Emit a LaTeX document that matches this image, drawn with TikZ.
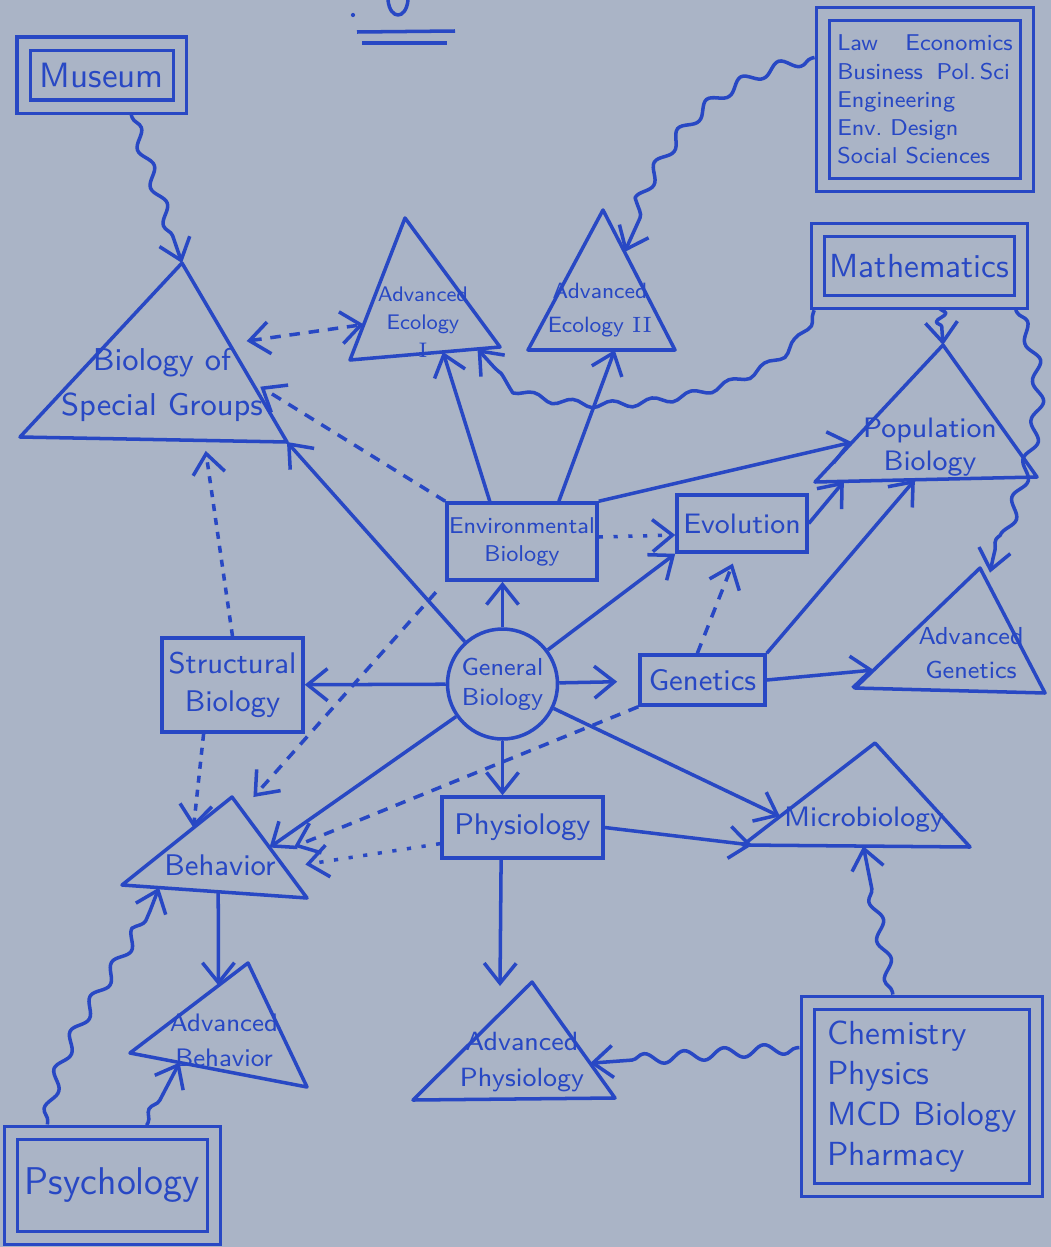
\documentclass[tikz,border=0pt]{standalone}
\usepackage{tikz}
\usetikzlibrary{arrows.meta,calc,decorations.pathmorphing}
\renewcommand{\familydefault}{\sfdefault}
\definecolor{paper}{RGB}{170,180,198}
\definecolor{ink}{RGB}{40,72,196}
\tikzset{barb/.tip={Straight Barb[length=2mm,width=3.2mm]}}

\begin{document}
\begin{tikzpicture}[x=1cm, y=-1cm, line width=1pt, line join=round,
    every node/.style={text=ink},
    box/.style={draw=ink, line join=miter, inner sep=0pt, align=center},
    dbox/.style={draw=ink, line join=miter, line width=.9pt, double=paper, double distance=1mm, inner sep=0pt},
    tri/.style={draw=ink},
    lbl/.style={inner sep=0pt, align=center},
    link/.style={draw=ink, -barb},
    dlink/.style={link, dash pattern=on 3pt off 2.5pt},
    olink/.style={link, dash pattern=on 1.2pt off 3pt},
    wlink/.style={link, decorate, decoration={snake, amplitude=.55mm, segment length=4mm, pre length=1mm, post length=2.5mm}},
  ]
  % sheet
  \path[fill=paper, use as bounding box] (0,0) rectangle (10.51,12.47);
  % page mark at the top
  \draw[ink] (3.57,.32) -- (4.55,.31);
  \draw[ink] (3.62,.43) -- (4.47,.43);
  \draw[ink] (3.88,0) .. controls (3.9,.2) and (4.06,.2) .. (4.08,0);
  \fill[ink] (3.53,.15) circle (.6pt);

  % fields outside biology
  \node[dbox, minimum width=1.565cm, minimum height=.63cm, font=\fontsize{10}{12}\selectfont] (museum) at (1.0175,.75) {Museum};
  \node[dbox, minimum width=2.04cm, minimum height=1.71cm, align=left, font=\fontsize{6.5}{8}\selectfont] (lawecon) at (9.25,.995)
    {Law\hspace{1.2em}Economics\\Business\hspace{.6em}Pol.\,Sci\\Engineering\\Env.\ Design\\Social Sciences};
  \node[dbox, minimum width=2.03cm, minimum height=.72cm, font=\fontsize{9.5}{11}\selectfont] (math) at (9.195,2.66) {Mathematics};
  \node[dbox, minimum width=2.28cm, minimum height=1.87cm, align=left, font=\fontsize{9.5}{11.5}\selectfont] (chem) at (9.22,10.965)
    {Chemistry\\Physics\\MCD Biology\\Pharmacy};
  \node[dbox, minimum width=2.03cm, minimum height=1.05cm, font=\fontsize{11}{13}\selectfont] (psych) at (1.125,11.855) {Psychology};

  % core courses
  \node[draw=ink, circle, minimum size=1.1cm, inner sep=0pt, align=center, font=\fontsize{7}{8.5}\selectfont] (genbio) at (5.025,6.84) {General\\Biology};
  \node[box, minimum width=1.5cm, minimum height=.77cm, font=\fontsize{6.5}{8}\selectfont] (envbio) at (5.22,5.415) {Environmental\\Biology};
  \node[box, minimum width=1.3cm, minimum height=.57cm, font=\fontsize{8}{10}\selectfont] (evol) at (7.42,5.235) {Evolution};
  \node[box, minimum width=1.41cm, minimum height=.94cm, font=\fontsize{8.5}{11}\selectfont] (struct) at (2.325,6.85) {Structural\\Biology};
  \node[box, minimum width=1.25cm, minimum height=.5cm, font=\fontsize{8.5}{10}\selectfont] (genetics) at (7.025,6.8) {Genetics};
  \node[box, minimum width=1.61cm, minimum height=.61cm, font=\fontsize{8.5}{10}\selectfont] (physio) at (5.225,8.275) {Physiology};

  % advanced courses (triangles)
  \draw[tri] (1.82,2.63) coordinate (bsg-a) -- (.20,4.37) coordinate (bsg-l) -- (2.87,4.42) coordinate (bsg-r) -- cycle;
  \node[lbl, font=\fontsize{9}{13}\selectfont] (bsg) at (1.62,3.85) {Biology of\\Special Groups};
  \draw[tri] (4.05,2.18) coordinate (aeco1-a) -- (3.50,3.60) coordinate (aeco1-l) -- (5.00,3.47) coordinate (aeco1-r) -- cycle;
  \node[lbl, font=\fontsize{6}{8}\selectfont] (aeco1) at (4.23,3.22) {Advanced\\Ecology\\{\rmfamily I}};
  \draw[tri] (6.03,2.10) coordinate (aeco2-a) -- (5.28,3.50) coordinate (aeco2-l) -- (6.75,3.50) coordinate (aeco2-r) -- cycle;
  \node[lbl, font=\fontsize{6.3}{9.5}\selectfont] (aeco2) at (6.0,3.10) {Advanced\\Ecology {\rmfamily II}};
  \draw[tri] (9.43,3.45) coordinate (popbio-a) -- (8.15,4.82) coordinate (popbio-l) -- (10.37,4.77) coordinate (popbio-r) -- cycle;
  \node[lbl, font=\fontsize{8}{9.5}\selectfont] (popbio) at (9.30,4.47) {Population\\Biology};
  \draw[tri] (9.80,5.68) coordinate (advgen-a) -- (8.55,6.88) coordinate (advgen-l) -- (10.45,6.93) coordinate (advgen-r) -- cycle;
  \node[lbl, font=\fontsize{7}{9.5}\selectfont] (advgen) at (9.71,6.53) {Advanced\\Genetics};
  \draw[tri] (8.75,7.43) coordinate (micro-a) -- (7.43,8.45) coordinate (micro-l) -- (9.70,8.47) coordinate (micro-r) -- cycle;
  \node[lbl, font=\fontsize{8}{10}\selectfont] (micro) at (8.64,8.20) {Microbiology};
  \draw[tri] (2.32,7.97) coordinate (behav-a) -- (1.22,8.85) coordinate (behav-l) -- (3.07,8.98) coordinate (behav-r) -- cycle;
  \node[lbl, font=\fontsize{8.5}{10}\selectfont] (behav) at (2.20,8.65) {Behavior};
  \draw[tri] (2.48,9.63) coordinate (advbeh-a) -- (1.30,10.53) coordinate (advbeh-l) -- (3.07,10.87) coordinate (advbeh-r) -- cycle;
  \node[lbl, font=\fontsize{7.2}{10}\selectfont] (advbeh) at (2.24,10.40) {Advanced\\Behavior};
  \draw[tri] (5.32,9.82) coordinate (advphys-a) -- (4.13,11.00) coordinate (advphys-l) -- (6.15,10.98) coordinate (advphys-r) -- cycle;
  \node[lbl, font=\fontsize{7.5}{10.5}\selectfont] (advphys) at (5.22,10.62) {Advanced\\Physiology};

  % required sequence
  \draw[link] (genbio) -- (genbio |- envbio.south);
  \draw[link] (genbio) -- (struct);
  \draw[link, shorten >=6pt] (genbio) -- (genetics);
  \draw[link] (genbio) -- (genbio |- physio.north);
  \draw[link] (genbio) -- (evol.south west);
  \draw[link] (genbio) -- (bsg-r);
  \draw[link] (genbio) -- ($(behav-a)!.5!(behav-r)$);
  \draw[link] (genbio) -- ($(micro-a)!.72!(micro-l)$);
  \draw[link] ($(envbio.north west)!.29!(envbio.north east)$) -- ($(aeco1-l)!.62!(aeco1-r)$);
  \draw[link] ($(envbio.north west)!.74!(envbio.north east)$) -- ($(aeco2-l)!.59!(aeco2-r)$);
  \draw[link] (envbio.north east) -- ($(popbio-a)!.71!(popbio-l)$);
  \draw[link] (evol.east) -- ($(popbio-l)!.13!(popbio-r)$);
  \draw[link] (genetics.north east) -- ($(popbio-l)!.45!(popbio-r)$);
  \draw[link] (genetics.east) -- ($(advgen-a)!.85!(advgen-l)$);
  \draw[link] (physio.east) -- ($(micro-l)!.04!(micro-r)$);
  \draw[link] ($(physio.south west)!.37!(physio.south east)$) -- ($(advphys-a)+(-.32,.04)$);
  \draw[link] ($(behav-l)!.52!(behav-r)$) -- ($(advbeh-a)!.25!(advbeh-l)$);

  % recommended (dashed and dotted)
  \draw[dlink, barb-barb, shorten <=5pt] ($(bsg-a)!.45!(bsg-r)$) -- ($(aeco1-a)!.75!(aeco1-l)$);
  \draw[dlink, shorten >=3pt] (envbio.north west) -- ($(bsg-a)!.66!(bsg-r)$);
  \draw[link, dash pattern=on 2pt off 2pt, shorten >=3pt] (struct.north) -- ($(bsg-l)!.69!(bsg-r)$);
  \draw[link, dash pattern=on 2pt off 2pt] ($(struct.south west)!.3!(struct.south east)$) -- ($(behav-a)!.35!(behav-l)$);
  \draw[dlink, shorten <=4pt, shorten >=5pt] (envbio.south west) -- ($(behav-a)!.13!(behav-r)$);
  \draw[dlink, shorten >=3pt] ($(genetics.north west)!.46!(genetics.north east)$) -- ($(evol.south west)!.46!(evol.south east)$);
  \draw[dlink, shorten >=6pt] (genetics.south west) -- ($(behav-a)!.57!(behav-r)$);
  \draw[olink, shorten >=6pt] ($(physio.west)!.5!(physio.south west)$) -- ($(behav-a)!.7!(behav-r)$);
  \draw[olink] ([yshift=.45mm]envbio.east) -- ([yshift=-1.15mm]evol.west);

  % from other departments (wavy)
  \draw[wlink, shorten <=2pt] ($(museum.south west)!.67!(museum.south east)$) -- (bsg-a);
  \draw[wlink, shorten <=2pt] ($(lawecon.north west)!.25!(lawecon.south west)$) .. controls +(-1.2,.25) and +(.45,-1.0) .. ($(aeco2-a)!.3!(aeco2-r)$);
  \draw[wlink, decoration={amplitude=.35mm}, shorten <=2pt] (math.south west) .. controls +(-.24,.97) and +(.46,.8) .. ($(aeco1-l)!.85!(aeco1-r)$);
  \draw[link, decorate, decoration={snake, amplitude=.5mm, segment length=1.6mm, pre length=.5mm, post length=1.5mm}, shorten <=2pt]
    ($(math.south west)!.6!(math.south east)$) -- (popbio-a);
  \draw[wlink, shorten <=2pt, shorten >=3pt] ($(math.south west)!.95!(math.south east)$) .. controls +(.53,.93) and +(.19,-1.05) .. ($(advgen-a)!.12!(advgen-r)$);
  \draw[wlink, shorten <=2pt] ($(chem.north west)!.38!(chem.north east)$) -- ($(micro-l)!.53!(micro-r)$);
  \draw[wlink, shorten <=2pt] ($(chem.north west)!.24!(chem.south west)$) -- ($(advphys-a)!.7!(advphys-r)$);
  \draw[wlink, shorten <=2pt] ($(psych.north west)!.18!(psych.north east)$) .. controls +(.1,-1.0) and +(-.3,.9) .. ($(behav-l)!.2!(behav-r)$);
  \draw[wlink, shorten <=2pt] ($(psych.north west)!.65!(psych.north east)$) -- ($(advbeh-l)!.28!(advbeh-r)$);
\end{tikzpicture}
\end{document}
